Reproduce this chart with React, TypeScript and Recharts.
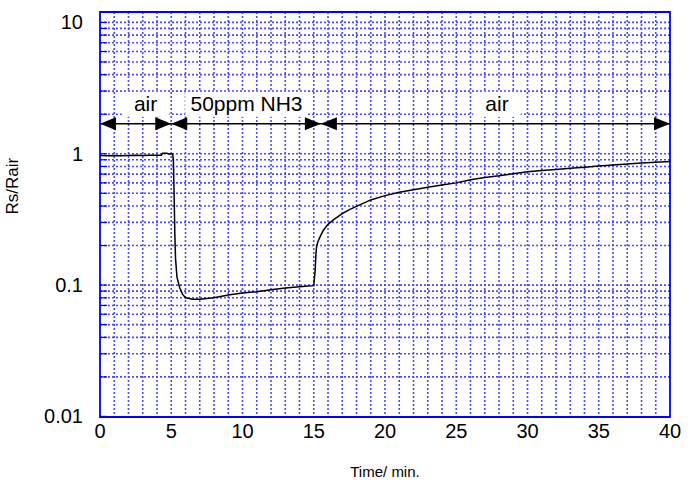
import {
  CartesianGrid,
  Line,
  LineChart,
  ReferenceArea,
  ReferenceDot,
  ReferenceLine,
  XAxis,
  YAxis,
} from 'recharts'

// measured response, Rs/Rair vs time (min)
const times = [
  0, 0.5, 1, 1.5, 2, 2.5, 3, 3.5, 4, 4.3, 4.4, 4.7, 4.8, 5.1, 5.15, 5.2, 5.25, 5.3, 5.4, 5.6, 5.8, 6.0,
  6.5, 7, 8, 9, 10, 11, 12, 13, 14, 15, 15.1, 15.15, 15.2, 15.3, 15.5, 15.7, 16, 16.4, 17, 17.5, 18,
  19, 20, 21, 22, 23, 24, 25, 26, 27, 28, 29, 30, 31, 32, 33, 34, 35, 36, 37, 38, 39, 40,
]
const ratio = [
  0.97, 0.965, 0.97, 0.965, 0.97, 0.972, 0.968, 0.975, 0.975, 0.975, 1.01, 1.01, 0.995, 0.995, 0.9,
  0.5, 0.25, 0.16, 0.115, 0.095, 0.085, 0.08, 0.078, 0.078, 0.08, 0.084, 0.087, 0.089, 0.092, 0.095,
  0.097, 0.099, 0.13, 0.17, 0.197, 0.215, 0.24, 0.264, 0.29, 0.315, 0.35, 0.375, 0.397, 0.445, 0.48,
  0.51, 0.532, 0.555, 0.578, 0.6, 0.635, 0.66, 0.68, 0.705, 0.73, 0.745, 0.76, 0.775, 0.79, 0.805,
  0.82, 0.835, 0.85, 0.862, 0.873,
]

const xTicks = [0, 5, 10, 15, 20, 25, 30, 35, 40]
const xMinor = Array.from({ length: 41 }, (_, i) => i)
const yDecades = [0.01, 0.1, 1, 10]
const yMinor = [
  0.01, 0.02, 0.03, 0.04, 0.05, 0.06, 0.07, 0.08, 0.09, 0.1, 0.2, 0.3, 0.4, 0.5, 0.6, 0.7, 0.8, 0.9, 1,
  2, 3, 4, 5, 6, 7, 8, 9, 10,
]

// gas phases along the top arrow line
const phaseBounds = [
  [0, 5],
  [5, 15.5],
  [15.5, 40],
]
const phaseLabels = ['air', '50ppm NH3', 'air']
const phaseLabelX = [3.2, 10.28, 27.86]
const arrowY = 1.69
const labelY = 2.4

const data = times.map((t, i) => ({ t, r: ratio[i] }))

const FONT = '"Liberation Sans", Arial, sans-serif'
const BLUE = '#0000ff'
const GRID = '#4a4aff'

function YTick(props: any) {
  const { x, y, payload } = props
  const isDecade = yDecades.includes(payload.value)
  const edge = x + 17
  return (
    <g>
      <line x1={edge} y1={y} x2={edge + 7} y2={y} stroke={BLUE} strokeWidth={1.2} />
      {isDecade && (
        <text x={x} y={y} textAnchor="end" dominantBaseline="central" fontSize={20} fill="#000" fontFamily={FONT}>
          {payload.value}
        </text>
      )}
    </g>
  )
}

function ArrowShape(props: any) {
  const { x1, y1, x2, y2 } = props
  const len = 16
  const hw = 6.5
  return (
    <g>
      <line x1={x1} y1={y1} x2={x2} y2={y2} stroke="#000" strokeWidth={1.5} />
      <polygon points={`${x1},${y1} ${x1 + len},${y1 - hw} ${x1 + len},${y1 + hw}`} fill="#000" />
      <polygon points={`${x2},${y2} ${x2 - len},${y2 - hw} ${x2 - len},${y2 + hw}`} fill="#000" />
    </g>
  )
}

function labelShape(text: string) {
  return (props: any) => {
    const { cx, cy } = props
    const w = text.length * 12.5 + 10
    return (
      <g>
        <rect x={cx - w / 2} y={cy - 12} width={w} height={25} fill="#fff" />
        <text x={cx} y={cy} textAnchor="middle" dominantBaseline="central" fontSize={21} fill="#000" fontFamily={FONT}>
          {text}
        </text>
      </g>
    )
  }
}

export default function App() {
  return (
    <div style={{ position: 'absolute', left: 0, top: 0, width: 693, height: 483, background: '#fff' }}>
      <LineChart width={693} height={483} data={data} margin={{ top: 12, right: 23, bottom: 0, left: 0 }}>
        <CartesianGrid
          stroke={GRID}
          strokeDasharray="2 2"
          strokeWidth={1.6}
          horizontalValues={yMinor.slice(1)}
          verticalValues={xMinor.slice(1, -1)}
        />
        <XAxis
          dataKey="t"
          type="number"
          domain={[0, 40]}
          ticks={xTicks}
          interval={0}
          height={66}
          tickSize={0}
          tickMargin={7}
          axisLine={false}
          tick={{ fontSize: 20, fill: '#000', fontFamily: FONT }}
          label={{ value: 'Time/ min.', position: 'insideBottom', offset: 6, fontSize: 15, fill: '#000', fontFamily: FONT }}
        />
        <XAxis
          xAxisId="top"
          orientation="top"
          dataKey="t"
          type="number"
          domain={[0, 40]}
          ticks={xMinor}
          interval={0}
          height={0}
          tickSize={-7}
          tick={false}
          axisLine={false}
          tickLine={{ stroke: BLUE, strokeWidth: 1.2 }}
        />
        <YAxis
          type="number"
          scale="log"
          domain={[0.0099, 12]}
          allowDataOverflow
          ticks={yMinor}
          interval={0}
          width={100}
          tickSize={0}
          tickMargin={17}
          axisLine={false}
          tick={<YTick />}
          label={{ value: 'Rs/Rair', angle: -90, position: 'insideLeft', offset: 12, fontSize: 17, fill: '#000', fontFamily: FONT }}
        />

        <ReferenceArea x1={0} x2={40} y1={0.0099} y2={12} fill="none" stroke={BLUE} strokeWidth={1.8} ifOverflow="visible" />

        <Line
          type="linear"
          dataKey="r"
          stroke="#000"
          strokeWidth={1.5}
          dot={false}
          isAnimationActive={false}
        />

        {phaseBounds.map(([a, b], i) => (
          <ReferenceLine
            key={'ar' + i}
            segment={[
              { x: a, y: arrowY },
              { x: b, y: arrowY },
            ]}
            shape={ArrowShape}
            ifOverflow="visible"
          />
        ))}
        {phaseLabels.map((s, i) => (
          <ReferenceDot key={'lb' + i} x={phaseLabelX[i]} y={labelY} r={0} shape={labelShape(s)} ifOverflow="visible" />
        ))}
      </LineChart>
    </div>
  )
}
